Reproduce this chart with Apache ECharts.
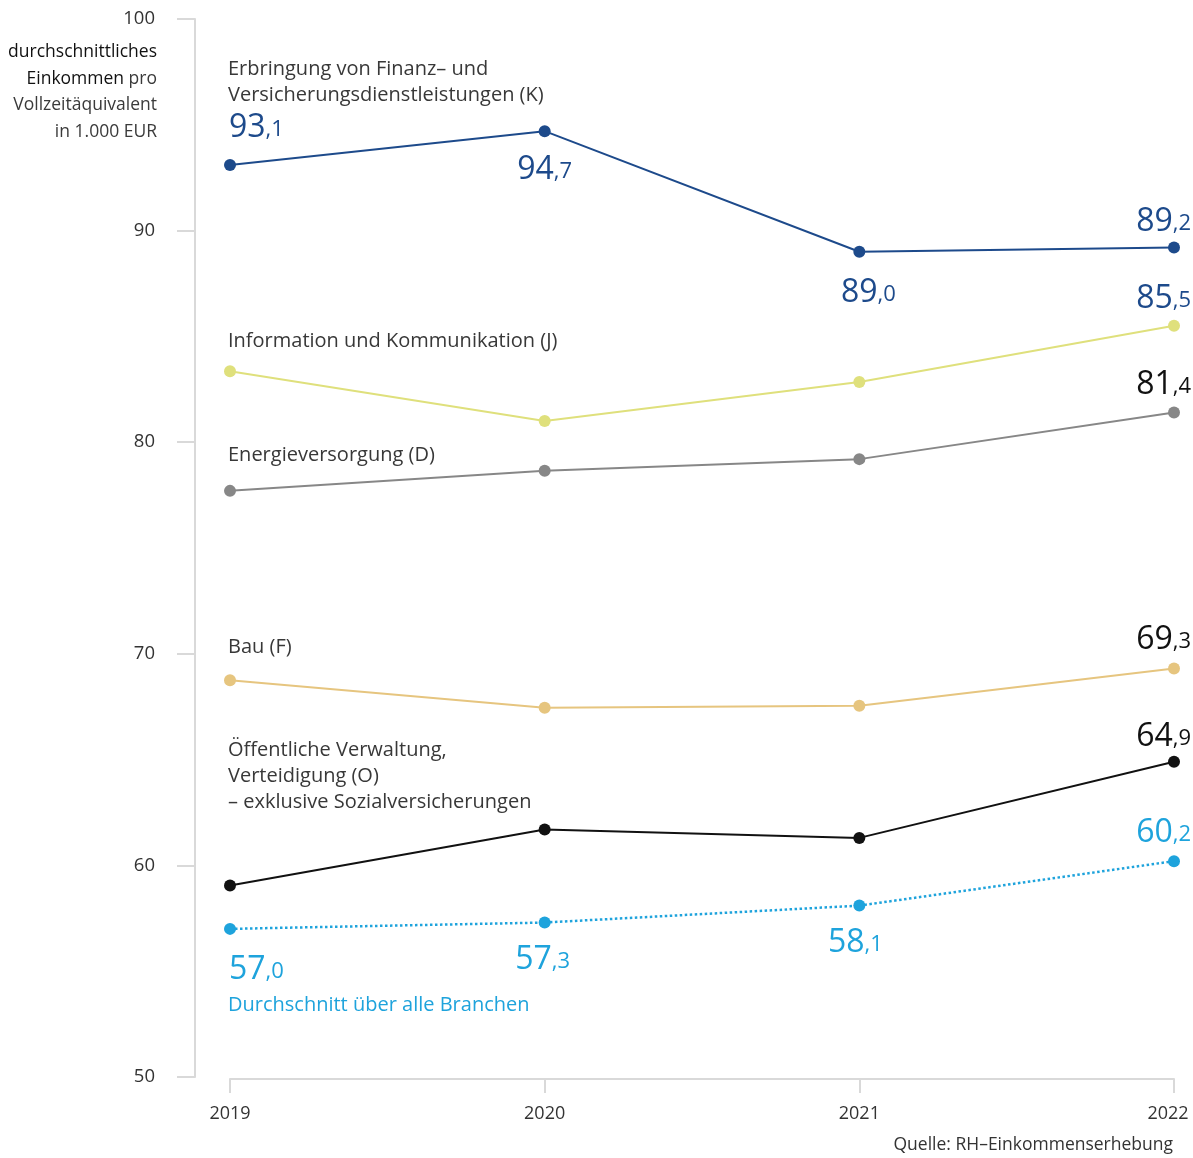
<!DOCTYPE html>
<html>
<head>
<meta charset="utf-8">
<script src="https://cdn.jsdelivr.net/npm/echarts@6/dist/echarts.min.js"></script>
<style>
  html, body { margin: 0; padding: 0; background: #fff; }
  #chart { width: 1193px; height: 1158px; }
</style>
</head>
<body>
<div id="chart"></div>
<script>
// Daten
const years = ["2019", "2020", "2021", "2022"];
const finanz = [93.1, 94.7, 89.0, 89.2];
const info = [83.35, 81.0, 82.85, 85.5];
const energie = [77.7, 78.65, 79.2, 81.4];
const bau = [68.75, 67.45, 67.55, 69.3];
const verwaltung = [59.05, 61.7, 61.3, 64.9];
const durchschnitt = [57.0, 57.3, 58.1, 60.2];
const yTicks = [50, 60, 70, 80, 90, 100];

const FONT = "'Open Sans', 'Noto Sans', sans-serif";

// Zahl als "93,1" mit kleiner Nachkommastelle
function fmt(v) {
  const s = v.toFixed(1).split(".");
  return "{a|" + s[0] + "}{b|," + s[1] + "}";
}

function valueLabel(color, dx, dy, align) {
  return {
    show: true,
    position: "inside",
    align: align,
    verticalAlign: "middle",
    offset: [dx, dy],
    fontFamily: FONT,
    formatter: p => fmt(p.value),
    rich: {
      a: { fontSize: 32, color: color, fontFamily: FONT, verticalAlign: "bottom" },
      b: { fontSize: 22, color: color, fontFamily: FONT, verticalAlign: "bottom", padding: [0, 0, 3, 0] }
    }
  };
}

// labels: one entry per point, null = no label
function makeData(values, labels) {
  return values.map((v, i) => labels[i] ? { value: v, label: labels[i] } : { value: v, label: { show: false } });
}

// Reihenname neben dem ersten Punkt
function nameMark(values, text, dy, color) {
  return {
    symbol: "circle",
    symbolSize: 2,
    silent: true,
    itemStyle: { color: "rgba(0,0,0,0)" },
    data: [{
      coord: [years[0], values[0]],
      label: {
        show: true,
        position: "inside",
        align: "left",
        verticalAlign: "middle",
        offset: [-2, dy],
        formatter: text,
        fontFamily: FONT,
        fontSize: 20,
        lineHeight: 26,
        color: color
      }
    }]
  };
}

function lineSeries(name, values, color, labels, mark, dotted) {
  return {
    name: name,
    type: "line",
    data: makeData(values, labels),
    symbol: "circle",
    symbolSize: 12,
    showAllSymbol: true,
    lineStyle: { color: color, width: dotted ? 2.5 : 2, type: dotted ? "dotted" : "solid" },
    itemStyle: { color: color },
    markPoint: mark,
    z: dotted ? 3 : 2
  };
}

const cBlue = "#1d4a8b";
const cYellow = "#dfe07c";
const cGray = "#878787";
const cTan = "#e6c57f";
const cBlack = "#111111";
const cLight = "#1ea3dc";
const cText = "#383838";

const chart = echarts.init(document.getElementById("chart"));
chart.setOption({
  backgroundColor: "#fff",
  animation: false,
  grid: { left: 230, right: 19, top: 19, bottom: 81, outerBoundsMode: "none" },
  xAxis: {
    type: "category",
    data: years,
    boundaryGap: false,
    offset: 2,
    axisLine: { lineStyle: { color: "#d9d9d9", width: 2 } },
    axisTick: { show: true, length: 14, lineStyle: { color: "#d9d9d9", width: 2 } },
    axisLabel: {
      fontFamily: FONT, fontSize: 18, color: "#333", margin: 26,
      formatter: (v, i) => i === years.length - 1 ? "{last|" + v + "}" : v,
      rich: { last: { fontFamily: FONT, fontSize: 18, color: "#333", padding: [0, 12, 0, 0] } }
    },
    splitLine: { show: false }
  },
  yAxis: {
    type: "value",
    min: yTicks[0],
    max: yTicks[yTicks.length - 1],
    interval: 10,
    offset: 35,
    axisLine: { show: true, lineStyle: { color: "#d9d9d9", width: 2 } },
    axisTick: { show: true, length: 18, lineStyle: { color: "#d9d9d9", width: 2 } },
    axisLabel: { fontFamily: FONT, fontSize: 18.5, color: "#333", margin: 40 },
    splitLine: { show: false }
  },
  graphic: [
    {
      type: "text",
      x: 157,
      y: 39,
      style: {
        text: "{d|durchschnittliches}\n{d|Einkommen} pro\nVollzeitäquivalent\nin 1.000 EUR",
        align: "right",
        verticalAlign: "top",
        fontFamily: FONT,
        fontSize: 17.5,
        lineHeight: 26.5,
        fill: "#3a3a3a",
        rich: { d: { fontFamily: FONT, fontSize: 17.5, fill: "#111", fontWeight: 500 } }
      }
    },
    {
      type: "text",
      x: 1173,
      y: 1136,
      style: { text: "Quelle: RH–Einkommenserhebung", align: "right", fontFamily: FONT, fontSize: 17.5, fill: "#333" }
    }
  ],
  series: [
    lineSeries("Finanz", finanz, cBlue, [
      valueLabel(cBlue, -1, -37, "left"),
      valueLabel(cBlue, 0, 39, "center"),
      valueLabel(cBlue, 9, 41, "center"),
      valueLabel(cBlue, 17, -26, "right")
    ], nameMark(finanz, "Erbringung von Finanz– und\nVersicherungsdienstleistungen (K)", -83, cText)),
    lineSeries("Information", info, cYellow, [null, null, null,
      valueLabel(cBlue, 17, -27, "right")
    ], nameMark(info, "Information und Kommunikation (J)", -30, cText)),
    lineSeries("Energie", energie, cGray, [null, null, null,
      valueLabel(cBlack, 17, -28, "right")
    ], nameMark(energie, "Energieversorgung (D)", -36, cText)),
    lineSeries("Bau", bau, cTan, [null, null, null,
      valueLabel(cBlack, 17, -29, "right")
    ], nameMark(bau, "Bau (F)", -33, cText)),
    lineSeries("Verwaltung", verwaltung, cBlack, [null, null, null,
      valueLabel(cBlack, 17, -25, "right")
    ], nameMark(verwaltung, "Öffentliche Verwaltung,\nVerteidigung (O)\n– exklusive Sozialversicherungen", -109, cText)),
    lineSeries("Durchschnitt", durchschnitt, cLight, [
      valueLabel(cLight, -1, 41, "left"),
      valueLabel(cLight, -2, 37, "center"),
      valueLabel(cLight, -4, 37, "center"),
      valueLabel(cLight, 17, -28, "right")
    ], nameMark(durchschnitt, "Durchschnitt über alle Branchen", 76, cLight), true)
  ]
});
</script>
</body>
</html>
